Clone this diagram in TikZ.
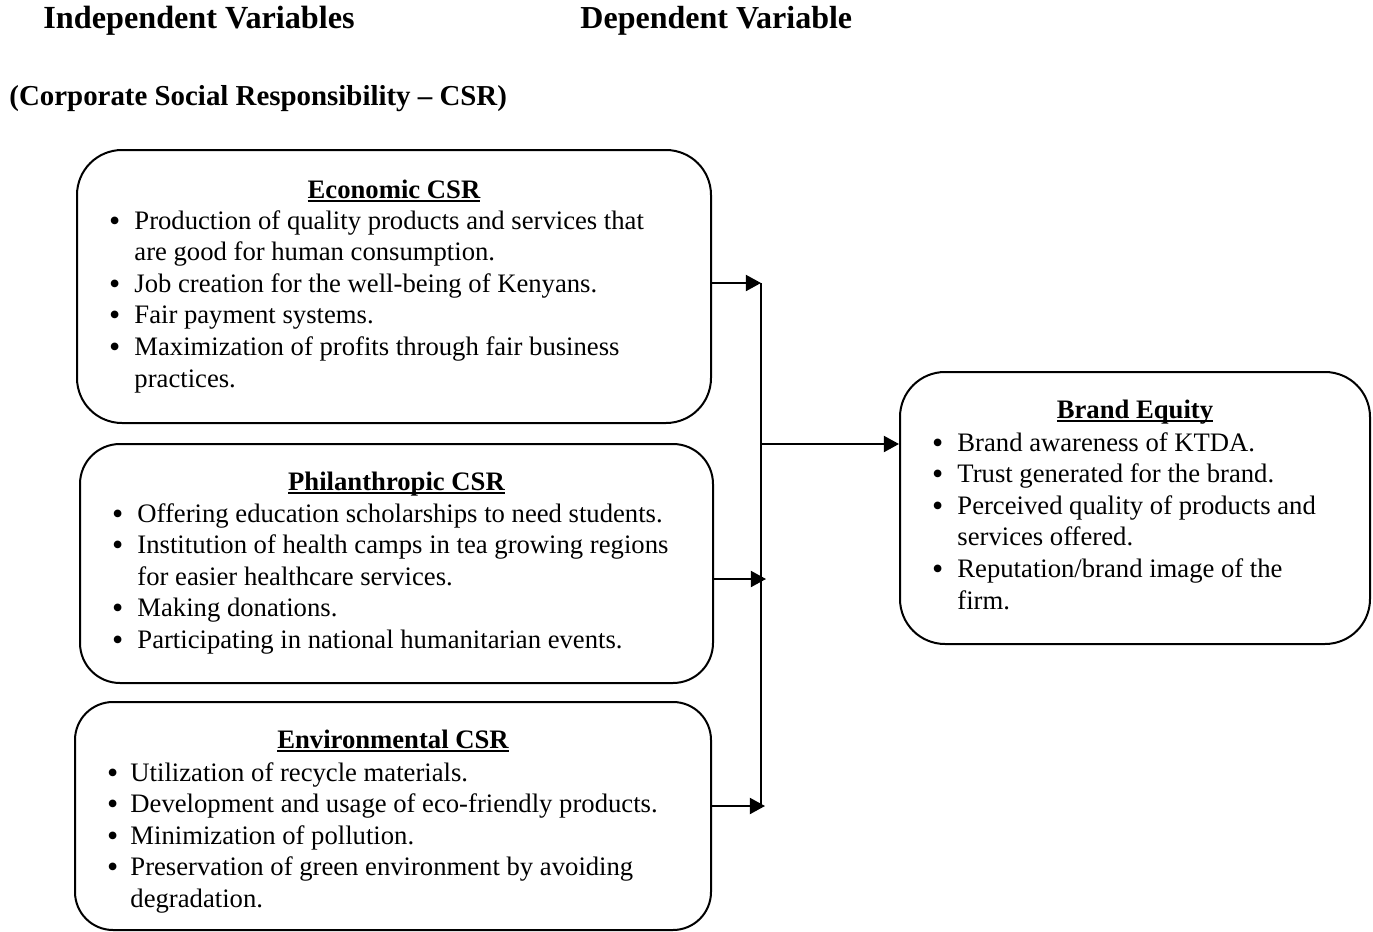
\documentclass[tikz,border=0pt]{standalone}
\usepackage{fontspec}
\setmainfont{Liberation Serif}
\usetikzlibrary{arrows.meta}
\newcommand\pxu{0.45pt}
\newcommand\ulx[1]{\setbox0\hbox{#1}\rlap{\rule[-1.8pt]{\wd0}{0.8pt}}\box0}
\newcommand\bl{\makebox[0pt][l]{\hspace*{-0.6pt}\raisebox{-0.9pt}{\scalebox{1.2}{•}}}}
\tikzset{
  box/.style={draw, line width=0.9pt, inner sep=0pt},
  ttl/.style={anchor=base, inner sep=0pt, font=\fontsize{12}{14.22}\selectfont\bfseries},
  lst/.style={anchor=base west, inner sep=0pt, font=\fontsize{12}{14.22}\selectfont},
  head/.style={anchor=base west, inner sep=0pt, font=\bfseries},
  conn/.style={line width=0.9pt},
  arr/.style={line width=0.9pt, -{Triangle[length=6.8pt,width=7.2pt]}}
}
\begin{document}
\begin{tikzpicture}[x=0.45pt,y=-0.45pt]
\useasboundingbox (0,0) rectangle (1373,932);

% headings
\node[head, font=\fontsize{14.5}{16}\selectfont\bfseries] (hind) at (43,29) {Independent Variables};
\node[head, font=\fontsize{14.4}{16}\selectfont\bfseries] (hdep) at (580,29) {Dependent Variable};
\node[head, font=\fontsize{13}{15}\selectfont\bfseries] (hcsr) at (9,105) {(Corporate Social Responsibility – CSR)};

% boxes
\node[box, rounded corners=45*\pxu, minimum width=634*\pxu, minimum height=273*\pxu] (econ) at (394,286.5) {};
\node[box, rounded corners=40*\pxu, minimum width=633*\pxu, minimum height=239*\pxu] (phil) at (396.5,563.5) {};
\node[box, rounded corners=38*\pxu, minimum width=636*\pxu, minimum height=228*\pxu] (env) at (393,816) {};
\node[box, rounded corners=45*\pxu, minimum width=470*\pxu, minimum height=272*\pxu] (brand) at (1135,508) {};

% Economic
\node[ttl] (econt) at (394,198) {\ulx{Economic CSR}};
\node[lst] (econl) at (110,229) {\begin{tabular}[t]{@{}p{10.8pt}@{}l@{}}
\bl & Production of quality products and services that\\
 & are good for human consumption.\\
\bl & Job creation for the well-being of Kenyans.\\
\bl & Fair payment systems.\\
\bl & Maximization of profits through fair business\\
 & practices.
\end{tabular}};

% Philanthropic
\node[ttl] (philt) at (396.5,490) {\ulx{Philanthropic CSR}};
\node[lst] (phill) at (113,522) {\begin{tabular}[t]{@{}p{10.8pt}@{}l@{}}
\bl & Offering education scholarships to need students.\\
\bl & Institution of health camps in tea growing regions\\
 & for easier healthcare services.\\
\bl & Making donations.\\
\bl & Participating in national humanitarian events.
\end{tabular}};

% Environmental
\node[ttl] (envt) at (393,748) {\ulx{Environmental CSR}};
\node[lst] (envl) at (108,781) {\begin{tabular}[t]{@{}p{9.9pt}@{}l@{}}
\bl & Utilization of recycle materials.\\
\bl & Development and usage of eco-friendly products.\\
\bl & Minimization of pollution.\\
\bl & Preservation of green environment by avoiding\\
 & degradation.
\end{tabular}};

% Brand Equity
\node[ttl] (brandt) at (1135,418) {\ulx{Brand Equity}};
\node[lst] (brandl) at (933,451) {\begin{tabular}[t]{@{}p{10.8pt}@{}l@{}}
\bl & Brand awareness of KTDA.\\
\bl & Trust generated for the brand.\\
\bl & Perceived quality of products and\\
 & services offered.\\
\bl & Reputation/brand image of the\\
 & firm.
\end{tabular}};

% connectors
\coordinate (jtop) at (761,283);
\coordinate (jbot) at (761,807);
\coordinate (jphil) at (766,579);
\coordinate (jenv) at (765,806);
\coordinate (jbr) at (761,444);
\draw[conn] (jtop) -- (jbot);
\draw[arr] (econ.east |- jtop) -- (jtop);
\draw[arr] (phil.east |- jphil) -- (jphil);
\draw[arr] (env.east |- jenv) -- (jenv);
\draw[arr] (jbr) -- (brand.west |- jbr);
\end{tikzpicture}
\end{document}
